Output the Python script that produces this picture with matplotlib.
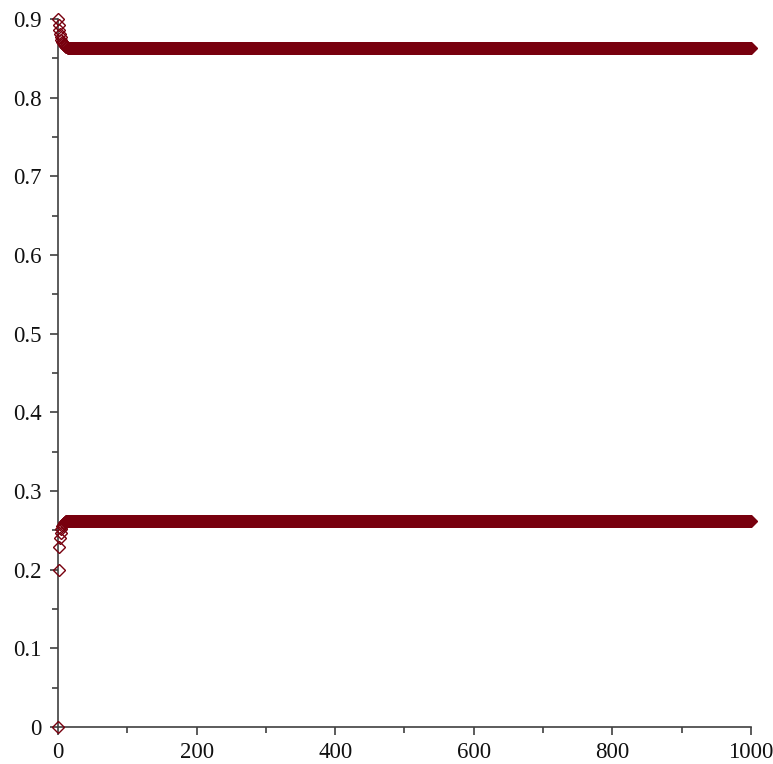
import numpy as np
import matplotlib.pyplot as plt

# valores: transitorio inicial y valor estable
n_total = 1001
sup_inicio = [0.9, 0.892, 0.886, 0.881, 0.877, 0.874, 0.871, 0.869, 0.868,
              0.867, 0.866, 0.865, 0.8645, 0.864]
sup_final = 0.8635
inf_inicio = [0.0, 0.2, 0.229, 0.240, 0.247, 0.252, 0.255, 0.257, 0.259,
              0.260, 0.261, 0.2615, 0.262, 0.2623]
inf_final = 0.2625

n = np.arange(n_total)
sup = np.array(sup_inicio + [sup_final] * (n_total - len(sup_inicio)))
inf = np.array(inf_inicio + [inf_final] * (n_total - len(inf_inicio)))

rojo = '#78000e'
plt.rcParams['font.family'] = ['Liberation Serif', 'DejaVu Serif']

fig = plt.figure(figsize=(7.73, 7.64), dpi=100)
ax = fig.add_axes([0.075, 0.0484, 0.8965, 0.9266])
ax.plot(n, sup, ls='none', marker='D', ms=5.8, mfc='none', mec=rojo, mew=1.0, clip_on=False)
ax.plot(n, inf, ls='none', marker='D', ms=5.8, mfc='none', mec=rojo, mew=1.0, clip_on=False)

ax.set_xlim(0, 1000)
ax.set_ylim(0, 0.9)
ax.set_xticks([0, 200, 400, 600, 800, 1000])
ax.set_xticks(np.arange(100, 1000, 200), minor=True)
ax.set_yticks([0, 0.1, 0.2, 0.3, 0.4, 0.5, 0.6, 0.7, 0.8, 0.9])
ax.set_yticklabels(['0', '0.1', '0.2', '0.3', '0.4', '0.5', '0.6', '0.7', '0.8', '0.9'])
ax.set_yticks(np.arange(0.05, 0.9, 0.1), minor=True)

for lado in ['top', 'right']:
    ax.spines[lado].set_visible(False)
for lado in ['left', 'bottom']:
    ax.spines[lado].set_color('#404040')
    ax.spines[lado].set_linewidth(1.2)
    ax.spines[lado].set_zorder(0)

ax.tick_params(which='major', direction='out', length=6, width=1.2, color='#404040',
               labelsize=16.5, labelcolor='#111111')
ax.tick_params(which='minor', direction='out', length=4, width=1.2, color='#404040')
ax.tick_params(axis='x', pad=5)
ax.tick_params(axis='y', pad=6)

plt.savefig('out.png', dpi=100)
plt.close()
